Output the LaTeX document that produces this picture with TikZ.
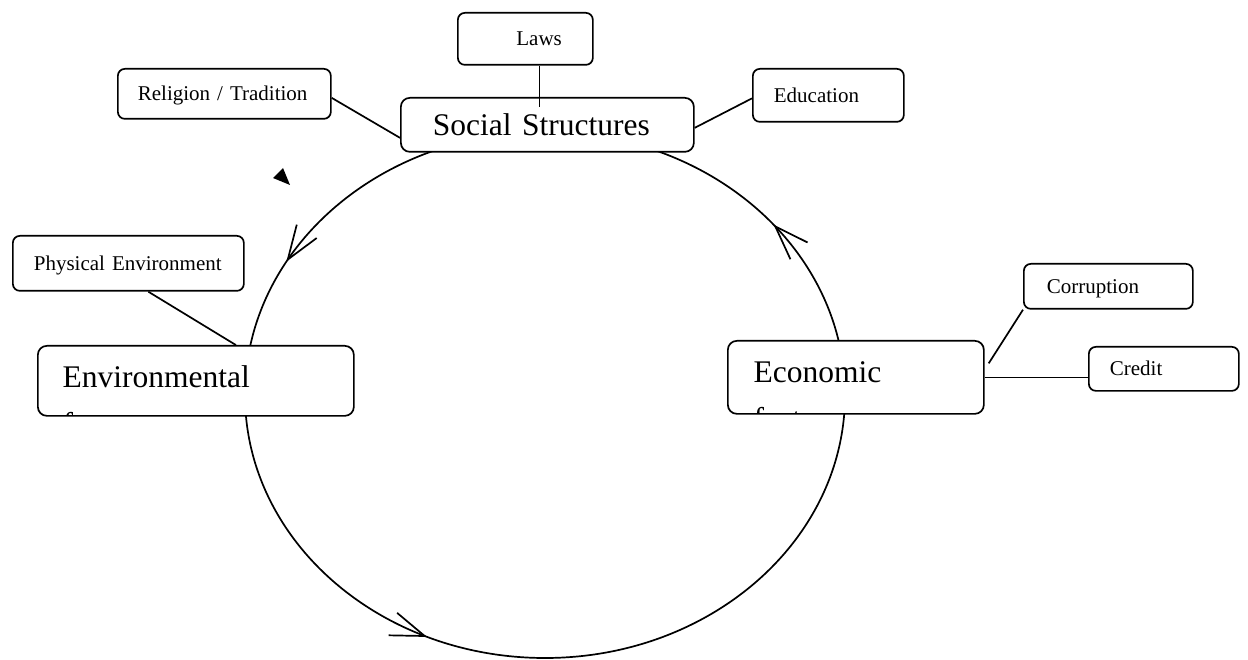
\documentclass[tikz,border=0pt]{standalone}
\usepackage{fontspec}
\setmainfont{Liberation Serif}
\usetikzlibrary{arrows.meta,calc,decorations.markings}

\tikzset{
  factbox/.style={draw, fill=white, rounded corners=9pt, line width=1.7pt,
                  anchor=north west, inner sep=0pt},
  facttxt/.style={anchor=base west, align=left, inner sep=0pt,
                  minimum width=0pt, minimum height=0pt,
                  font=\fontsize{31.5}{47}\selectfont},
  subbox/.style={draw, fill=white, rounded corners=7pt, line width=1.7pt,
                 anchor=north west, inner ysep=0pt, align=left,
                 text height=14pt, text depth=0pt, font=\fontsize{21}{25}\selectfont},
  link/.style={line width=1.7pt},
  cycbarb/.tip={Straight Barb[length=34pt, width=24pt, line width=1.7pt]},
  cyc/.style={line width=1.7pt, postaction={decorate, decoration={markings,
      mark=at position 0.318 with {\arrowreversed{cycbarb}},
      mark=at position 0.58 with {\arrowreversed{cycbarb}},
      mark=at position 0.893 with {\arrowreversed{cycbarb}}}}},
}

\begin{document}
\begin{tikzpicture}[x=1pt, y=-1pt]
  \useasboundingbox (0,0) rectangle (1248,660);

  % the cycle between the three groups of factors
  \draw[cyc] (545,395) ellipse [x radius=300, y radius=263];
  \fill (273,178) -- (283,168) -- (290,185) -- cycle;

  % main factors (second line of text is cut off by the box)
  \node[factbox, minimum width=293pt, minimum height=54pt, inner xsep=32pt,
        text width=229pt, align=left, text height=21pt, text depth=0pt,
        font=\fontsize{31.5}{37}\selectfont] (social) at (400,97) {Social Structures};
  \node[factbox, minimum width=316pt, minimum height=70pt,
        path picture={\node[facttxt] (envtxt) at ([xshift=24pt, yshift=-89pt]path picture bounding box.north west)
          {Environmental\\factors};}] (env) at (37,345) {};
  \node[factbox, minimum width=256pt, minimum height=73pt,
        path picture={\node[facttxt] (econtxt) at ([xshift=25pt, yshift=-89pt]path picture bounding box.north west)
          {Economic\\factors};}] (econ) at (727,340) {};

  % sub factors
  \node[subbox, align=right, inner xsep=31pt, text width=73pt, minimum height=52pt] (laws) at (457,12) {Laws};
  \node[subbox, inner xsep=20pt, text width=173pt, minimum height=50pt] (relig) at (117,68) {Religion / Tradition};
  \node[subbox, inner xsep=21pt, text width=109pt, minimum height=53pt] (edu) at (752,68) {Education};
  \node[subbox, inner xsep=21pt, text width=189pt, minimum height=55pt] (phys) at (12,235) {Physical Environment};
  \node[subbox, inner xsep=23pt, text width=123pt, minimum height=45pt] (corr) at (1023,263) {Corruption};
  \node[subbox, inner xsep=21pt, text width=108pt, minimum height=44pt] (credit) at (1088,346) {Credit};

  % links
  \draw[link] ([xshift=14pt]laws.south) -- ($([xshift=14pt]laws.south |- social.north)+(0,10)$);
  \draw[link] ([yshift=-4pt]relig.east) -- ([yshift=-13pt]social.west);
  \draw[link] ([yshift=-3pt]edu.west) -- ([yshift=-3pt]social.east);
  \draw[link] ([xshift=20pt]phys.south) -- ([xshift=40pt]env.north);
  \draw[link] (corr.south west) -- ([xshift=4pt, yshift=14pt]econ.east);
  \draw[link] (econ.east) -- (econ.east -| credit.west);
\end{tikzpicture}
\end{document}
